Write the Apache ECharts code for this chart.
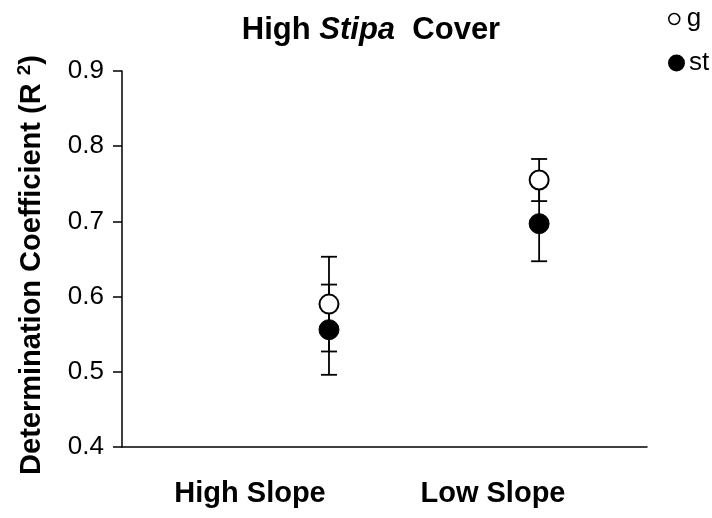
<!DOCTYPE html>
<html>
<head>
<meta charset="utf-8">
<script src="https://cdn.jsdelivr.net/npm/echarts@6/dist/echarts.min.js"></script>
<style>
  html, body { margin: 0; padding: 0; background: #fff; }
  #chart { width: 712px; height: 518px; }
</style>
</head>
<body>
<div id="chart"></div>
<script>
// categories on the x axis
const categories = ['High Slope', 'Low Slope']
// where each group of points sits, measured in category units
const pointX = [0.325, 1.19]
// series values (mean and symmetric error)
const gMean = [0.590, 0.755]
const gErr = [0.063, 0.028]
const stMean = [0.556, 0.697]
const stErr = [0.060, 0.050]
// y tick labels
const yTicks = [0.4, 0.5, 0.6, 0.7, 0.8, 0.9]

const font = 'Liberation Sans, Arial, sans-serif'

function barData(mean, err) {
  return mean.map((m, i) => [pointX[i], m - err[i], m + err[i]])
}

function renderErrorBar(params, api) {
  const x = api.value(0)
  const lo = api.coord([x, api.value(1)])
  const hi = api.coord([x, api.value(2)])
  const half = 8
  const style = { stroke: '#000', lineWidth: 1.8 }
  return {
    type: 'group',
    children: [
      { type: 'line', shape: { x1: lo[0], y1: lo[1], x2: hi[0], y2: hi[1] }, style: style },
      { type: 'line', shape: { x1: hi[0] - half, y1: hi[1], x2: hi[0] + half, y2: hi[1] }, style: style },
      { type: 'line', shape: { x1: lo[0] - half, y1: lo[1], x2: lo[0] + half, y2: lo[1] }, style: style }
    ]
  }
}

const chart = echarts.init(document.getElementById('chart'))

chart.setOption({
  animation: false,
  backgroundColor: '#fff',
  title: {
    left: 366,
    textAlign: 'center',
    top: 10,
    text: '{b|High }{i|Stipa}{b|  Cover}',
    textStyle: {
      rich: {
        b: { fontFamily: font, fontSize: 31, fontWeight: 'bold', color: '#000' },
        i: { fontFamily: font, fontSize: 31, fontWeight: 'bold', fontStyle: 'italic', color: '#000' }
      }
    }
  },
  // two legends so each marker can keep its own size
  legend: [
    {
      left: 663,
      top: 1,
      itemWidth: 11,
      itemHeight: 11,
      icon: 'circle',
      itemStyle: { borderWidth: 1.5 },
      textStyle: { fontFamily: font, fontSize: 26, color: '#000', padding: [0, 0, 0, 2] },
      data: ['g']
    },
    {
      left: 663,
      top: 45,
      itemWidth: 15,
      itemHeight: 15,
      icon: 'circle',
      textStyle: { fontFamily: font, fontSize: 26, color: '#000', padding: [0, 0, 0, 0] },
      data: ['st']
    }
  ],
  grid: {
    left: 122,
    right: 65,
    top: 71,
    bottom: 71
  },
  xAxis: {
    type: 'value',
    min: -0.527,
    max: 1.634,
    axisLine: { onZero: false, lineStyle: { color: '#000', width: 1.5 } },
    axisTick: { show: false },
    splitLine: { show: false },
    axisLabel: {
      customValues: categories.map((c, i) => i),
      formatter: v => categories[Math.round(v)] || '',
      margin: 32,
      fontFamily: font,
      fontSize: 29,
      fontWeight: 'bold',
      color: '#000'
    }
  },
  yAxis: {
    type: 'value',
    min: yTicks[0],
    max: yTicks[yTicks.length - 1],
    interval: 0.1,
    name: '{a|Determination Coefficient (R }{s|2}{a|)}',
    nameLocation: 'middle',
    nameRotate: 90,
    nameGap: 74,
    nameTextStyle: {
      padding: [0, 12, 0, 0],
      rich: {
        a: { fontFamily: font, fontSize: 29, fontWeight: 'bold', color: '#000' },
        s: { fontFamily: font, fontSize: 19, fontWeight: 'bold', color: '#000', padding: [0, 0, 14, 0] }
      }
    },
    axisLine: { show: true, onZero: false, lineStyle: { color: '#000', width: 1.5 } },
    axisTick: { show: true, inside: false, length: 9, lineStyle: { color: '#000', width: 1.5 } },
    splitLine: { show: false },
    axisLabel: {
      margin: 18,
      fontFamily: font,
      fontSize: 26,
      color: '#000',
      formatter: v => v.toFixed(1)
    }
  },
  series: [
    {
      type: 'custom',
      name: 'st-err',
      renderItem: renderErrorBar,
      data: barData(stMean, stErr),
      z: 2
    },
    {
      type: 'custom',
      name: 'g-err',
      renderItem: renderErrorBar,
      data: barData(gMean, gErr),
      z: 2
    },
    {
      type: 'scatter',
      name: 'st',
      symbol: 'circle',
      symbolSize: 20,
      itemStyle: { color: '#000', borderColor: '#000', borderWidth: 1, opacity: 1 },
      data: stMean.map((m, i) => [pointX[i], m]),
      z: 3
    },
    {
      type: 'scatter',
      name: 'g',
      symbol: 'circle',
      symbolSize: 19,
      itemStyle: { color: '#fff', borderColor: '#000', borderWidth: 2, opacity: 1 },
      data: gMean.map((m, i) => [pointX[i], m]),
      z: 4
    }
  ]
})
</script>
</body>
</html>
